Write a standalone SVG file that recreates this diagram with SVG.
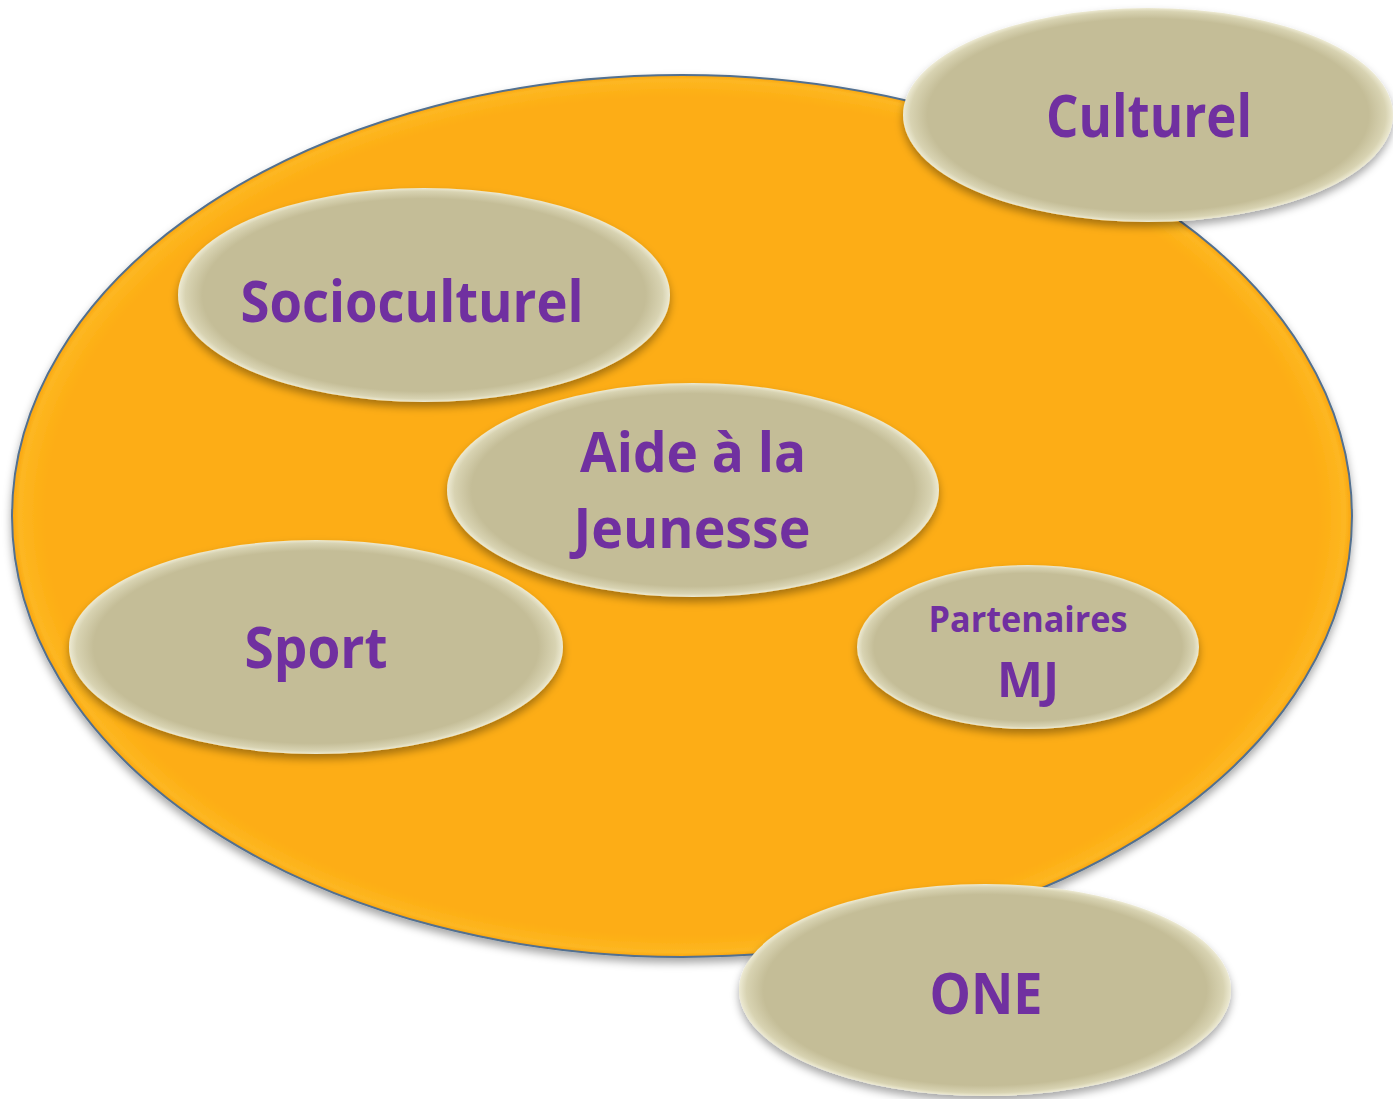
<svg xmlns="http://www.w3.org/2000/svg" width="1393" height="1099" viewBox="0 0 1393 1099">
<style>
.lbl{font-family:"Open Sans","Liberation Sans",sans-serif;font-weight:bold;fill:#7030A0;text-anchor:middle}
.pill{fill:url(#khaki);filter:url(#sh)}
</style>
<defs>
<radialGradient id="khaki" cx="0.5" cy="0.5" r="0.5">
<stop offset="0" stop-color="#C4BD97"/>
<stop offset="0.9" stop-color="#C4BD97"/>
<stop offset="0.97" stop-color="#D8D3B2"/>
<stop offset="1" stop-color="#EDEAD3"/>
</radialGradient>
<radialGradient id="orange" cx="0.5" cy="0.5" r="0.5">
<stop offset="0" stop-color="#FDAD12"/>
<stop offset="0.95" stop-color="#FDAD12"/>
<stop offset="0.99" stop-color="#FDB722"/>
<stop offset="1" stop-color="#F9A40E"/>
</radialGradient>
<filter id="sh" x="-10%" y="-10%" width="120%" height="130%">
<feDropShadow dx="0" dy="5" stdDeviation="4" flood-color="#000" flood-opacity="0.35"/>
</filter>
</defs>
<rect width="1393" height="1099" fill="#FFFFFF"/>
<g id="main">
<ellipse cx="682" cy="516" rx="670" ry="441" fill="url(#orange)" stroke="#52708F" stroke-width="2" filter="url(#sh)"/>
</g>
<g id="connectors"/>
<g id="socioculturel">
<ellipse class="pill" cx="424" cy="295" rx="246" ry="107"/>
<text class="lbl" x="412" y="322" font-size="58" textLength="343" lengthAdjust="spacingAndGlyphs">Socioculturel</text>
</g>
<g id="aide">
<ellipse class="pill" cx="693" cy="490" rx="246" ry="107"/>
<text class="lbl" x="693" y="472" font-size="56" textLength="226" lengthAdjust="spacingAndGlyphs">Aide à la</text>
<text class="lbl" x="692" y="548" font-size="56" textLength="237" lengthAdjust="spacingAndGlyphs">Jeunesse</text>
</g>
<g id="sport">
<ellipse class="pill" cx="316" cy="647" rx="247" ry="107"/>
<text class="lbl" x="316" y="668" font-size="58" textLength="143" lengthAdjust="spacingAndGlyphs">Sport</text>
</g>
<g id="partenaires">
<ellipse class="pill" cx="1028" cy="647" rx="171" ry="82"/>
<text class="lbl" x="1028" y="632" font-size="36" textLength="199" lengthAdjust="spacingAndGlyphs">Partenaires</text>
<text class="lbl" x="1028" y="697" font-size="48" textLength="62" lengthAdjust="spacingAndGlyphs">MJ</text>
</g>
<g id="culturel">
<ellipse class="pill" cx="1148" cy="115" rx="245" ry="107"/>
<text class="lbl" x="1149" y="137" font-size="59" textLength="206" lengthAdjust="spacingAndGlyphs">Culturel</text>
</g>
<g id="one">
<ellipse class="pill" cx="985" cy="990" rx="246" ry="106"/>
<text class="lbl" x="986" y="1014" font-size="58" textLength="113" lengthAdjust="spacingAndGlyphs">ONE</text>
</g>
</svg>
